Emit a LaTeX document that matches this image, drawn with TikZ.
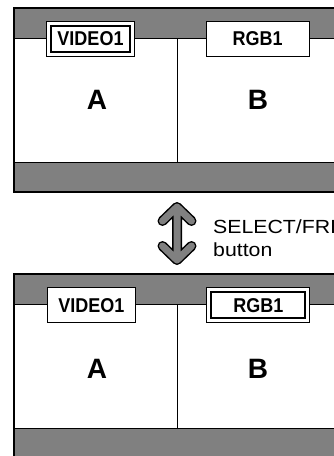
\documentclass[tikz,border=0pt]{standalone}
\usepackage{fontspec}
\setmainfont{Liberation Sans}
\usetikzlibrary{calc}
\definecolor{bandgray}{gray}{0.5}
\newcommand{\narrow}[1]{\scalebox{0.9}[1]{#1}}
\newcommand{\wide}[1]{\scalebox{1.12}[1]{#1}}

\begin{document}
\begin{tikzpicture}[x=1pt, y=-1pt,
                    labelbox/.style={draw, fill=white, line width=1, minimum width=88,
                                     minimum height=35, inner sep=0,
                                     font=\bfseries\fontsize{20}{22}\selectfont},
                    letter/.style={font=\bfseries\fontsize{28}{30}\selectfont},
                    knob/.style={line cap=round, line join=round}]
  \useasboundingbox (0,0) rectangle (334,456);
  \clip (0,0) rectangle (334,456);
  % the two screens
  \foreach \y in {8,274} {
    \fill[bandgray] (14,\y) rectangle (600,\y+184);
    \draw[fill=white, line width=1] (14,\y+30) rectangle (600,\y+154);
    \draw[line width=1] (177,\y+30) -- (177,\y+154);
    \draw[line width=2] (14,\y) rectangle (600,\y+184);
  }
  \node[labelbox] (vidtop) at (90.5,38.5) {\narrow{VIDEO1}};
  \node[labelbox, minimum width=103] (rgbtop) at (257.7,38.5) {\narrow{RGB1}};
  \node[labelbox] (vidbot) at (91.3,305.3) {\narrow{VIDEO1}};
  \node[labelbox, minimum width=103] (rgbbot) at (258.3,305.3) {\narrow{RGB1}};
  % selected source
  \draw[line width=2] ($(vidtop.north west)+(5,5)$) rectangle ($(vidtop.south east)-(5,5)$);
  \draw[line width=2] ($(rgbbot.north west)+(5,5)$) rectangle ($(rgbbot.south east)-(5,5)$);
  \node[letter] (pica) at (97,100) {A};
  \node[letter] (picb) at (258,100) {B};
  \node[letter] (picc) at (97,369) {A};
  \node[letter] (picd) at (258,369) {B};
  % button
  \coordinate (up) at (177,207);
  \coordinate (dn) at (177,260);
  \foreach \c/\w in {black/10, bandgray/7}
    \draw[knob, draw=\c, line width=\w] (162.5,221) -- (up) -- (191.5,221)
      (up) -- (dn) (162.5,246) -- (dn) -- (191.5,246);
  \node[anchor=north west, align=left, inner sep=0,
        font=\fontsize{19}{23}\selectfont] (btn) at (213,220) {\wide{SELECT/FRE}\\\wide{button}};
\end{tikzpicture}
\end{document}
